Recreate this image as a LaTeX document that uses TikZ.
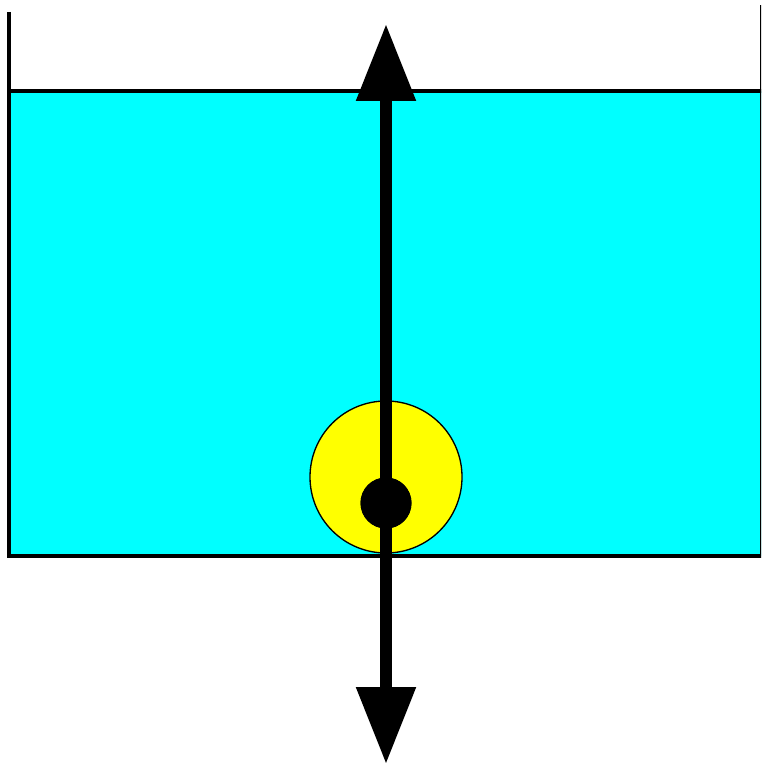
\documentclass[tikz,border=0pt]{standalone}
\usetikzlibrary{arrows.meta}
\definecolor{water}{RGB}{0,255,255}
\definecolor{ballyellow}{RGB}{255,255,0}
\begin{document}
\begin{tikzpicture}[x=0.75pt,y=-0.75pt,
  wall/.style={line width=2.6pt,line join=miter,draw=black},
  force/.style={line width=9pt,-{Triangle[width=42.75pt,length=57.75pt]}},
  ballstyle/.style={circle,draw=black,line width=1pt,fill=ballyellow,minimum size=152*0.75pt,inner sep=0pt},
  dotstyle/.style={circle,fill=black,minimum size=51*0.75pt,inner sep=0pt}]
\useasboundingbox (0,0) rectangle (761,766);
\begin{scope}
\clip (0,0) rectangle (761,766);
\fill[water] (9,91) rectangle (762,556);
\draw[wall] (9,91) -- (762,91);
\draw[wall] (9,12) -- (9,556) -- (762,556) -- (762,5);
\end{scope}
\node[ballstyle] (ball) at (386,477) {};
\coordinate (top) at (386,24);
\coordinate (bot) at (386,764);
\node[dotstyle] (dot) at (386,503) {};
\draw[force] (dot.center) -- (top);
\draw[force] (dot.center) -- (bot);
\node[dotstyle] at (dot) {};
\end{tikzpicture}
\end{document}
